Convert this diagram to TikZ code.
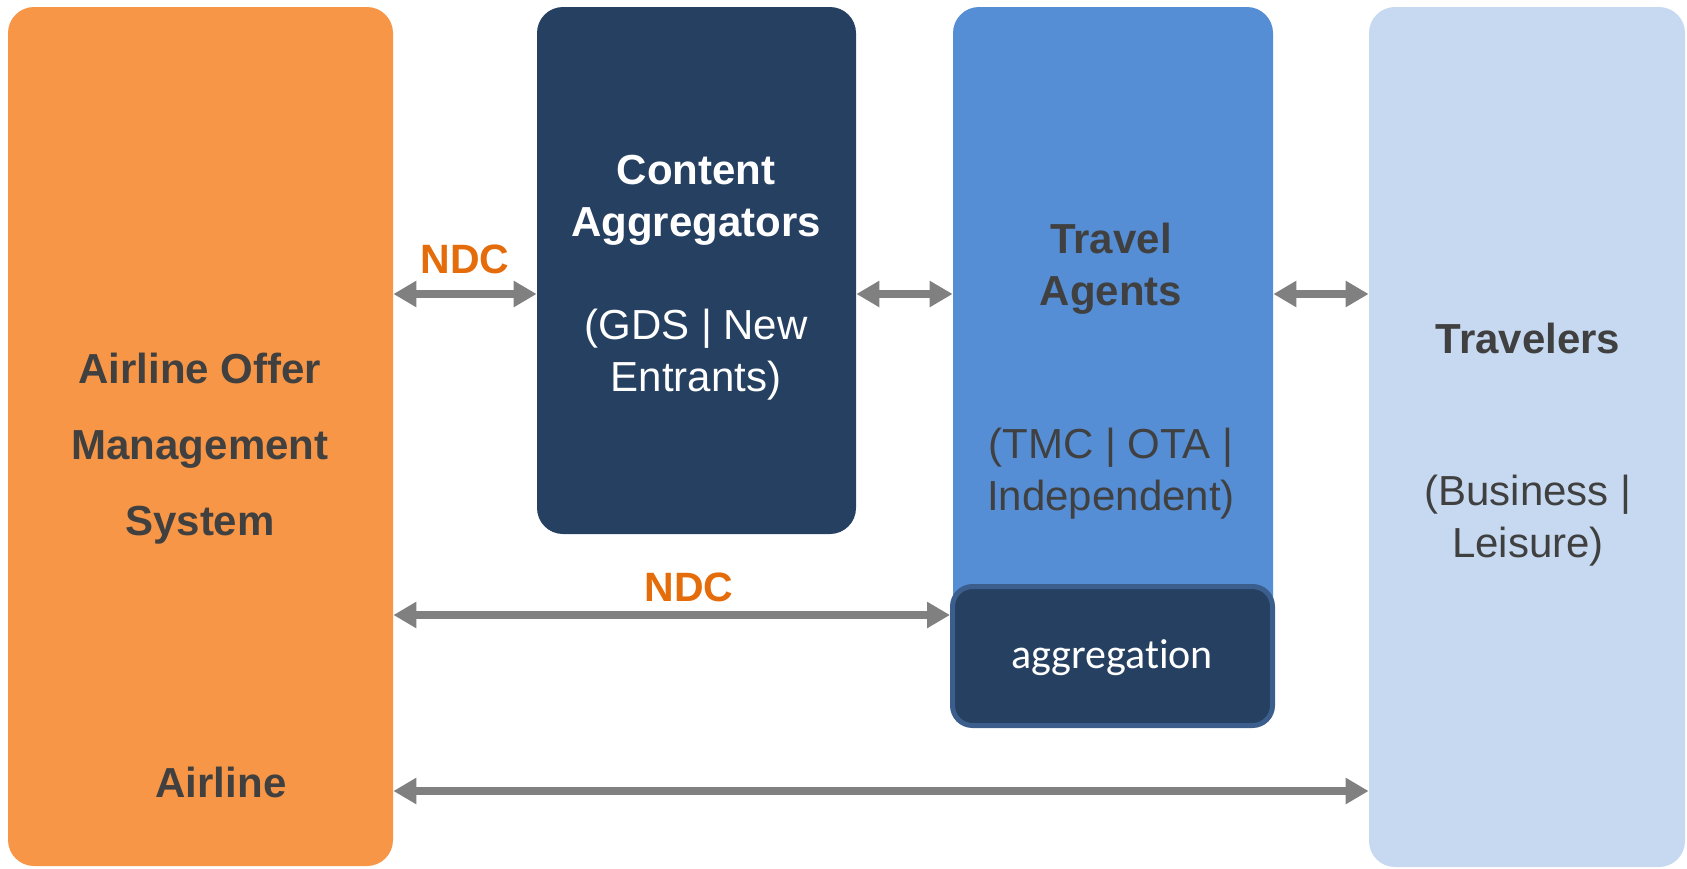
\documentclass[tikz,border=0pt]{standalone}
\usepackage{fontspec}
\setmainfont{Liberation Sans}
\newfontfamily\aggfont[Ligatures=NoCommon]{Carlito}
\usepackage{tikz}
\usetikzlibrary{arrows.meta, positioning}
\definecolor{AIR}{HTML}{F79646}
\definecolor{AGG}{HTML}{254061}
\definecolor{AGT}{HTML}{558ED5}
\definecolor{TRV}{HTML}{C6D9F1}
\definecolor{AGB}{HTML}{3B5E8C}
\definecolor{LNK}{HTML}{808080}
\definecolor{NDC}{HTML}{E46C0A}
\definecolor{TXT}{HTML}{404040}
\tikzset{
  column/.style={% Style for the tall rounded boxes
      rectangle,
      rounded corners=13pt,
      inner sep=0pt,
      draw=none,
  },
  title/.style={% Bold captions
      font=\fontsize{21}{26}\selectfont\bfseries,
      align=center,
      inner sep=0pt,
      text=TXT,
  },
  sub/.style={% Plain captions in brackets
      font=\fontsize{21}{26}\selectfont,
      align=center,
      inner sep=0pt,
      text=TXT,
  },
  proto/.style={% Protocol name over a link
      font=\fontsize{20.5}{24}\selectfont\bfseries,
      inner sep=0pt,
      anchor=base,
      text=NDC,
  },
  flow/.style={% Two way link
      <->, >={Triangle[length=11.5pt,width=12.5pt]},
      line width=4pt,
      draw=LNK,
  }
}

\begin{document}
\begin{tikzpicture}[x=0.5pt, y=-0.5pt]
    \useasboundingbox (0,0) rectangle (1687,868);
    % boxes
    \node[column, fill=AIR, minimum width=192.5pt, minimum height=429.5pt] (aoms) at (200.5,436.5) {};
    \node[column, fill=AGG, minimum width=159.5pt, minimum height=263.5pt] (cagg) at (696.5,270.5) {};
    \node[column, fill=AGT, minimum width=160pt, minimum height=316.5pt] (tagent) at (1113,323.5) {};
    \node[column, fill=AGG, draw=AGB, line width=2.5pt, rounded corners=10pt,
          minimum width=160pt, minimum height=69.5pt] (agg) at (1112.5,656) {};
    \node[column, fill=TRV, minimum width=158pt, minimum height=430pt] (trav) at (1527,437) {};

    % captions
    \node[title, text=TXT, font=\fontsize{21}{38}\selectfont\bfseries] (aomsT) at (200,448.5) {Airline Offer\\Management\\System};
    \node[title, anchor=base] (airT) at (221,797) {Airline};
    \node[title, text=white] (caggT) at (696,200) {Content\\Aggregators};
    \node[sub, text=white] (caggS) at (696,354.5) {(GDS | New\\Entrants)};
    \node[title] (tagentT) at (1111,269) {Travel\\Agents};
    \node[sub] (tagentS) at (1111,474) {(TMC | OTA |\\Independent)};
    \node[anchor=base, inner sep=0pt, text=white, font=\aggfont\fontsize{21}{26}\selectfont] (aggT) at (1112,668) {aggregation};
    \node[title, anchor=base] (travT) at (1528,353) {Travelers};
    \node[sub] (travS) at (1528,520.5) {(Business |\\Leisure)};

    % links
    \coordinate (upper) at (0,294);
    \coordinate (lower) at (0,615);
    \coordinate (bottom) at (0,791);
    \draw[flow] (aoms.east |- upper) -- (cagg.west |- upper);
    \draw[flow] (cagg.east |- upper) -- (tagent.west |- upper);
    \draw[flow] (tagent.east |- upper) -- (trav.west |- upper);
    \draw[flow] (aoms.east |- lower) -- (agg.west |- lower);
    \draw[flow] (aoms.east |- bottom) -- (trav.west |- bottom);
    \node[proto] (ndcA) at (465,273) {NDC};
    \node[proto] (ndcB) at (689,601) {NDC};
\end{tikzpicture}
\end{document}
